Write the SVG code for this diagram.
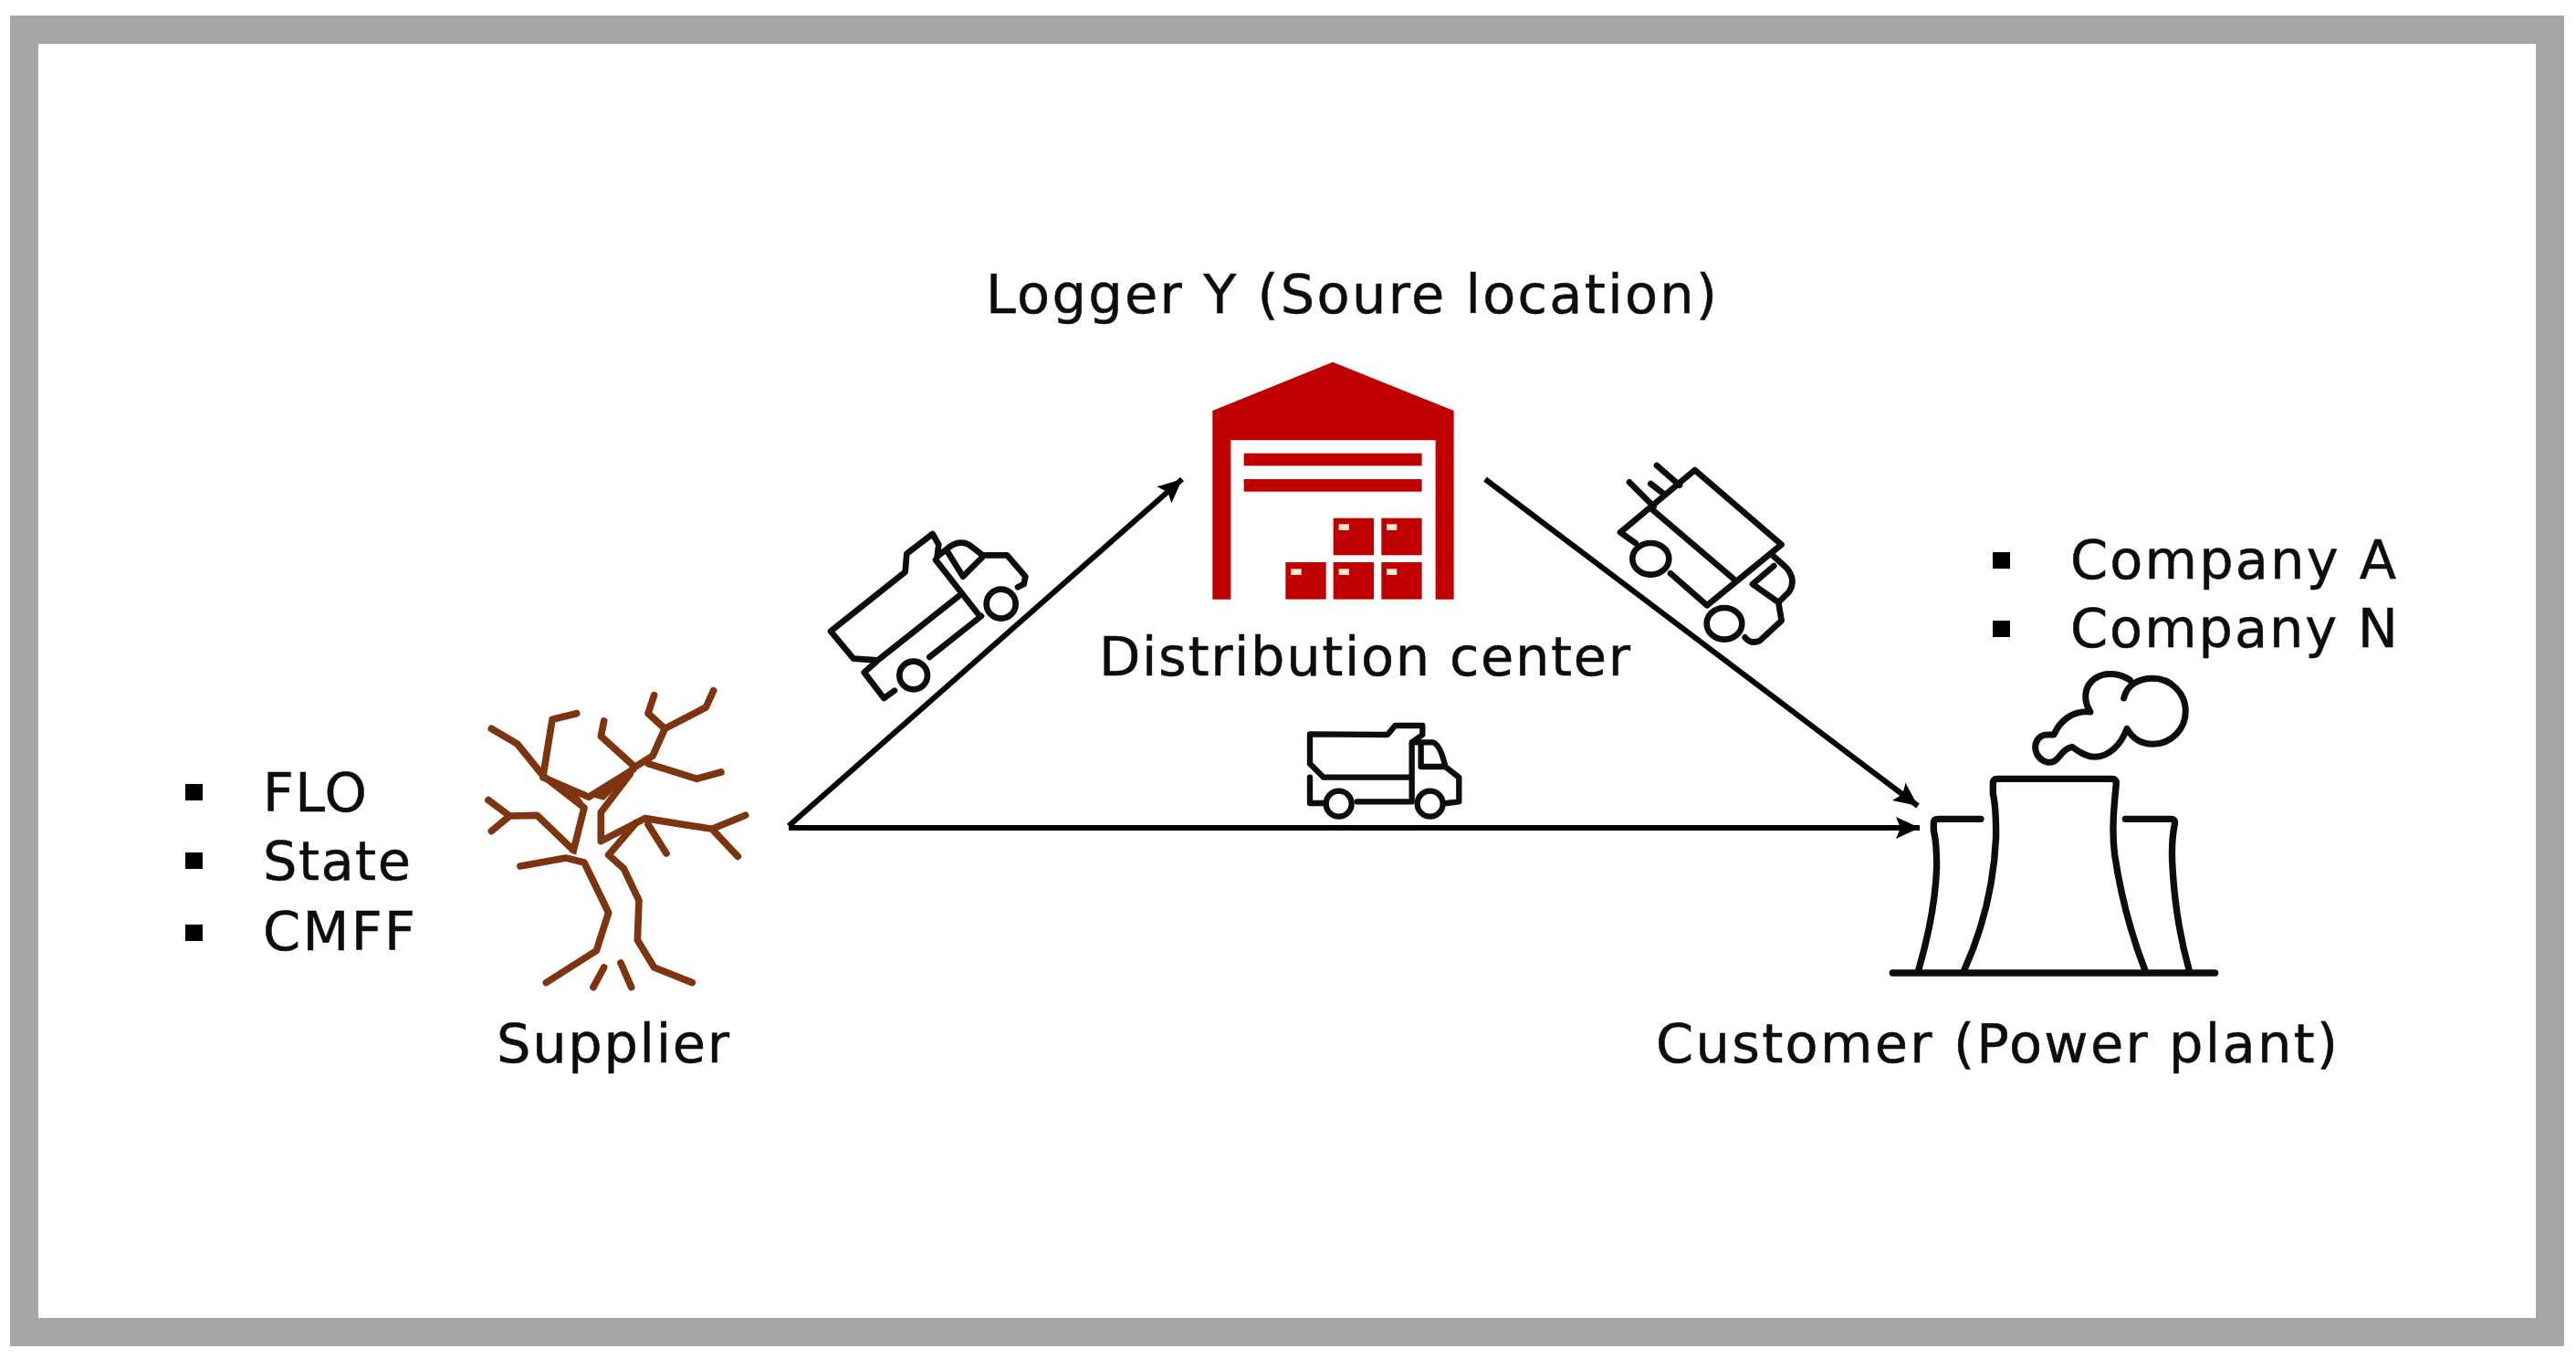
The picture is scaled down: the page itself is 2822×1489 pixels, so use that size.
<svg xmlns="http://www.w3.org/2000/svg" width="2822" height="1489" viewBox="0 0 2822 1489">
<style>
text{font-family:"DejaVu Sans","Liberation Sans",sans-serif;font-size:59px;fill:#0d0d0d;stroke:#0d0d0d;stroke-width:.5px}
.ln{fill:none;stroke:#0d0d0d;stroke-linejoin:round;stroke-linecap:round}
.tr{fill:none;stroke:#7f3410;stroke-width:23;stroke-linejoin:round;stroke-linecap:round}
.red{fill:#c00000}
.hi{fill:#fbe5d6}
.bl{fill:#000}
.cn{stroke:#000;stroke-width:6;fill:none;marker-end:url(#ah)}
</style>
<defs>
<marker id="ah" markerUnits="userSpaceOnUse" markerWidth="30" markerHeight="26" refX="26" refY="12" orient="auto">
<path d="M0,0 L26,12 L0,24 L5,12 Z" fill="#000"/>
</marker>
</defs>
<rect width="2822" height="1489" fill="#fff"/>
<rect id="frame" x="26.500" y="32.500" width="2767" height="1427" fill="#fff" stroke="#a6a6a6" stroke-width="31"/>
<g id="connectors">
<path class="cn" d="M864,905 L1295,525"/>
<path class="cn" d="M864,907 L2103,907"/>
<path class="cn" d="M1627,525 L2101,883"/>
</g>
<g id="supplier">
<g transform="translate(480,720) scale(.3333)">
<path class="tr" d="M175,235 L260,285 L345,390 L375,205 L455,185"/>
<path class="tr" d="M345,390 L480,495 L445,635 L325,520 L235,522 L165,470 M235,522 L175,572"/>
<path class="tr" d="M345,395 L495,460 L640,370 M640,355 L535,260 L545,210"/>
<path class="tr" d="M640,365 L705,325 L745,235 L690,185 L710,125 M745,235 L880,165 L905,110"/>
<path class="tr" d="M690,350 L850,400 L930,378"/>
<path class="tr" d="M630,385 L535,510 L535,605 L680,530 L900,565 L1010,520 M900,565 L985,655"/>
<path class="tr" d="M690,550 L750,645"/>
<path class="tr" d="M650,545 L560,650 L610,695 L660,800 L655,930 L710,1020 L835,1070"/>
<path class="tr" d="M270,687 L420,660 L480,675 L560,840 L520,965 L355,1070"/>
<path class="tr" d="M545,1020 L510,1085 M600,1005 L635,1085"/>
<path fill="#7f3410" d="M350,395 L440,430 L480,480 L420,445 Z M490,455 L635,370 L590,425 L545,470 Z M430,640 L450,610 L455,650 Z"/>
</g>
<text x="544" y="1164" textLength="255">Supplier</text>
<rect class="bl" x="203" y="859" width="19" height="18"/>
<rect class="bl" x="203" y="934" width="19" height="18"/>
<rect class="bl" x="203" y="1013" width="19" height="18"/>
<text x="288" y="889" textLength="114">FLO</text>
<text x="288" y="964" textLength="162">State</text>
<text x="288" y="1041" textLength="167">CMFF</text>
</g>
<g id="distribution-center">
<text x="1080" y="343" textLength="801">Logger Y (Soure location)</text>
<g transform="translate(1280,370) scale(.3333)">
<path class="red" d="M145,240 L540,80 L938,240 L938,860 L878,860 L878,337 L205,337 L205,860 L145,860 Z"/>
<rect class="red" x="248" y="380" width="585" height="41"/>
<rect class="red" x="248" y="465" width="585" height="41"/>
<rect class="red" x="385" y="738" width="133" height="122"/>
<rect class="red" x="542" y="738" width="133" height="122"/>
<rect class="red" x="700" y="738" width="133" height="122"/>
<rect class="red" x="542" y="593" width="133" height="122"/>
<rect class="red" x="700" y="593" width="133" height="122"/>
<rect class="hi" x="403" y="760" width="34" height="20"/>
<rect class="hi" x="560" y="760" width="34" height="20"/>
<rect class="hi" x="717" y="760" width="34" height="20"/>
<rect class="hi" x="560" y="613" width="34" height="20"/>
<rect class="hi" x="717" y="613" width="34" height="20"/>
</g>
<text x="1204" y="740" textLength="582">Distribution center</text>
</g>
<g id="customer">
<rect class="bl" x="2183" y="605" width="19" height="18"/>
<rect class="bl" x="2183" y="680" width="19" height="18"/>
<text x="2268" y="634" textLength="357">Company A</text>
<text x="2268" y="709" textLength="359">Company N</text>
<g transform="translate(2040,710) scale(.3333)">
<path class="ln" stroke-width="21" d="M860,165 C870,120 910,100 955,100 A108,108 0 1 1 955,316 C920,316 890,300 870,265 C850,320 810,358 765,358 C735,358 710,340 690,325 C665,330 655,350 640,365 C620,385 590,375 575,350 C560,320 575,285 610,285 L630,285 C650,240 690,205 750,210 C725,170 730,125 765,100 C800,75 850,85 880,105"/>
<path class="ln" stroke-width="22" d="M335,1060 Q430,850 440,620 Q440,520 430,480 L430,445 Q430,430 445,430 H820 Q835,430 835,445 L830,500 Q820,600 830,680 Q860,880 930,1060"/>
<path class="ln" stroke-width="22" d="M185,1060 Q240,870 245,720 Q245,640 235,600 L235,575 Q235,562 250,562 H390"/>
<path class="ln" stroke-width="22" d="M865,562 H1015 Q1030,562 1027,580 Q1015,640 1020,720 Q1030,900 1075,1060"/>
<path class="ln" stroke-width="22" d="M100,1068 H1160"/>
</g>
<text x="1814" y="1164" textLength="747">Customer (Power plant)</text>
</g>
<g id="truck-up" transform="translate(880,560) scale(.3333)">
<path class="ln" stroke-width="20" d="M90,395 L335,200 L340,140 L425,75 L445,110 L440,150 M90,395 L165,485 L245,490 L510,280 M435,160 L580,345 M440,150 L480,118 Q520,90 555,118 L590,145 L670,145 L730,215 L725,240 L705,250 M475,135 L525,215 L590,150 M585,345 L415,480 M240,495 L200,530 L265,615 L300,590"/>
<circle class="ln" stroke-width="20" cx="362" cy="540" r="46"/>
<circle class="ln" stroke-width="20" cx="650" cy="305" r="48"/>
</g>
<g id="truck-down" transform="translate(1740,480) scale(.3333)">
<path class="ln" stroke-width="20" d="M155,345 L105,310 L350,105 L635,350 L390,550 L270,445 M210,235 L480,465 M135,145 L215,225 M205,150 L250,185 M225,90 L300,155 M605,385 L650,425 Q685,465 660,505 L625,540 L540,480 L610,420 M625,540 L635,600 L565,665 Q535,680 515,655"/>
<ellipse class="ln" stroke-width="20" cx="205" cy="397" rx="60" ry="52"/>
<ellipse class="ln" stroke-width="20" cx="447" cy="610" rx="58" ry="52"/>
</g>
<g id="truck-flat" transform="translate(1400,770) scale(.3333)">
<path class="ln" stroke-width="19" d="M105,103 L360,105 L385,75 L475,75 L475,105 L440,130 L440,325 L260,325 M105,103 L105,200 L150,245 L430,245 M105,245 L105,330 L150,330 M440,130 L510,130 Q535,140 550,210 L470,210 L470,130 M550,210 L595,245 L595,325 L555,330"/>
<circle class="ln" stroke-width="19" cx="200" cy="332" r="42"/>
<circle class="ln" stroke-width="19" cx="500" cy="332" r="42"/>
</g>
</svg>
